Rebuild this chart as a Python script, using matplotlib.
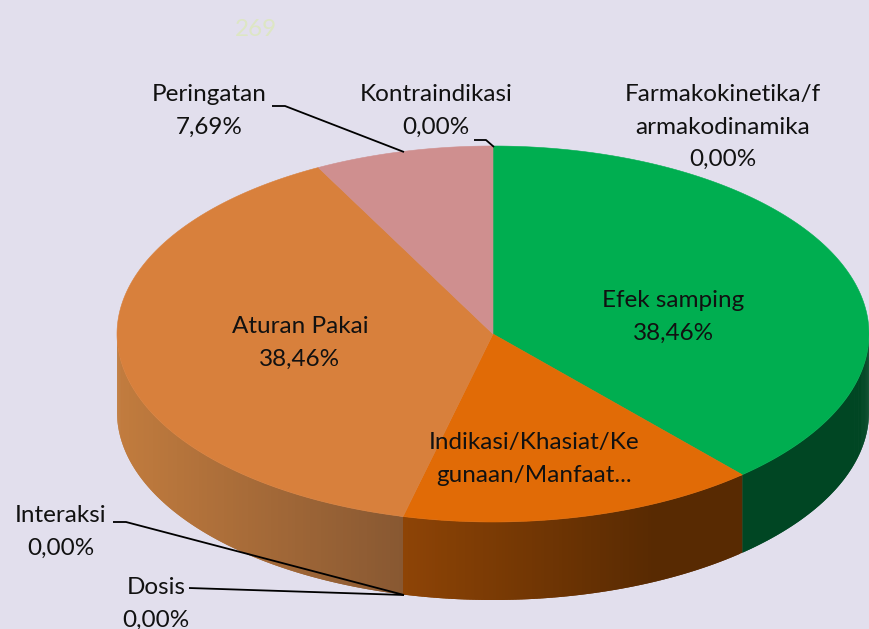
import numpy as np
import matplotlib.pyplot as plt
from matplotlib.patches import Polygon

# slices clockwise from 12 o'clock, percent
categories = ['Efek samping', 'Indikasi/Khasiat/Kegunaan/Manfaat', 'Interaksi', 'Dosis',
              'Aturan Pakai', 'Peringatan', 'Kontraindikasi', 'Farmakokinetika/farmakodinamika']
values = [38.46, 15.38, 0.0, 0.0, 38.46, 7.69, 0.0, 0.0]
top_colors = ['#00ae50', '#e16b06', '#000000', '#000000', '#d8803c', '#cf8f8f', '#000000', '#000000']
# side colours as (left, right) ends of the gradient, in screen x
side_colors = {0: ((0, 70, 35), (0, 70, 35)),
               1: ((142, 68, 6), (88, 42, 2)),
               4: ((194, 124, 62), (136, 88, 50))}

bg = '#e2dfed'
cx, cy, rx, ry, depth = 493, 334, 376, 188, 78

plt.rcParams['font.family'] = ['Lato', 'DejaVu Sans']
fig = plt.figure(figsize=(8.69, 6.29), dpi=100, facecolor=bg)
ax = fig.add_axes([0, 0, 1, 1])
ax.set_xlim(0, 869)
ax.set_ylim(629, 0)
ax.axis('off')


def rim(a0, a1, n=200):
    t = np.radians(np.linspace(a0, a1, n))
    return cx + rx * np.sin(t), cy - ry * np.cos(t)


edges = np.concatenate([[0], np.cumsum(values)]) * 3.6 / (sum(values) / 100)

# side wall, only the part facing the viewer (90..270 deg)
# strips overlap the next one so no seams show
for i, col in side_colors.items():
    a0, a1 = max(edges[i], 90), min(edges[i + 1], 270)
    xs, ys = rim(a0, a1, 121)
    x0, x1 = xs.min(), xs.max()
    c0, c1 = np.array(col[0]), np.array(col[1])
    # walk from one end to the other, later strips cover the overlap
    for j in range(len(xs) - 1):
        k = min(j + 2, len(xs) - 1)
        f = ((xs[j] + xs[j + 1]) / 2 - x0) / (x1 - x0)
        if i == 1:
            f = min(f * 1.35, 1)
        c = (c0 + (c1 - c0) * f) / 255
        px = list(xs[j:k + 1]) + list(xs[j:k + 1][::-1])
        py = list(ys[j:k + 1]) + list((ys[j:k + 1] + depth)[::-1])
        ax.add_patch(Polygon(np.c_[px, py], closed=True, fc=c, ec='none', lw=0, zorder=1))

# top face
for i, v in enumerate(values):
    if v == 0:
        continue
    xs, ys = rim(edges[i], edges[i + 1])
    ax.add_patch(Polygon(np.r_[[[cx, cy]], np.c_[xs, ys]], closed=True,
                         fc=top_colors[i], ec=top_colors[i], lw=0.4, zorder=2))

fs = 17.5
txt = '#111111'
labels = [(673, 317, 'Efek samping\n38,46%'),
          (300, 343, 'Aturan Pakai\n38,46%'),
          (534, 459, 'Indikasi/Khasiat/Ke\ngunaan/Manfaat...'),
          (209, 111, 'Peringatan\n7,69%'),
          (436, 111, 'Kontraindikasi\n0,00%'),
          (723, 127, 'Farmakokinetika/f\narmakodinamika\n0,00%'),
          (61, 532, 'Interaksi\n0,00%'),
          (156, 604, 'Dosis\n0,00%')]
for x, y, s in labels:
    ax.text(x, y, s, ha='center', va='center', fontsize=fs, color=txt,
            linespacing=1.66, zorder=4)

ax.text(256, 30, '269', ha='center', va='center', fontsize=fs, color='#dde6c4', zorder=4)

# leader lines
leaders = [([272, 285, 404], [106, 106, 152]),
           ([474, 486, 494], [140, 140, 147]),
           ([113, 126, 404], [522, 522, 595]),
           ([189, 404], [588, 595])]
for lx, ly in leaders:
    ax.plot(lx, ly, color='black', lw=1.3, zorder=3, solid_capstyle='butt')

fig.savefig('out.png', dpi=100, facecolor=bg)
